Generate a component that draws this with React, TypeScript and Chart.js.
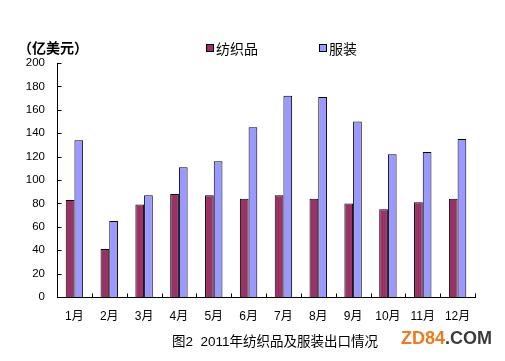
import React, { useEffect, useRef } from "react";
import { Chart, registerables } from "chart.js";

Chart.register(...registerables);

const categories = ["1月", "2月", "3月", "4月", "5月", "6月", "7月", "8月", "9月", "10月", "11月", "12月"];
const textileValues = [83, 41, 79, 88, 87, 84, 87, 84, 80, 75, 81, 84];
const apparelValues = [134, 65, 87, 111, 116, 145, 172, 171, 150, 122, 124, 135];
const seriesNames = ["纺织品", "服装"];
const seriesColors = ["#993366", "#9999FF"];
const yMax = 200;
const yStep = 20;
const unitLabel = "（亿美元）";
const caption = "图2  2011年纺织品及服装出口情况";

const FONT = "'Liberation Sans', 'Noto Sans CJK SC', Arial, sans-serif";

const innerTicks = {
  id: "innerTicks",
  afterDraw(chart: any) {
    const { ctx, scales } = chart;
    const xs = scales.x;
    const ys = scales.y;
    ctx.save();
    ctx.strokeStyle = "#000";
    ctx.lineWidth = 1;
    ctx.beginPath();
    const left = Math.round(xs.left) + 0.5;
    ys.ticks.forEach((t: any) => {
      const y = Math.round(ys.getPixelForValue(t.value)) + 0.5;
      ctx.moveTo(left, y);
      ctx.lineTo(left + 4, y);
    });
    const step = xs.getPixelForValue(1) - xs.getPixelForValue(0);
    const bottom = Math.round(ys.bottom) + 0.5;
    for (let i = 0; i <= categories.length; i++) {
      const x = Math.round(xs.getPixelForValue(0) - step / 2 + i * step) + 0.5;
      ctx.moveTo(x, bottom);
      ctx.lineTo(x, bottom - 4);
    }
    ctx.stroke();
    ctx.restore();
  },
};

export default function App() {
  const ref = useRef<HTMLCanvasElement | null>(null);

  useEffect(() => {
    if (!ref.current) return;
    const chart = new Chart(ref.current, {
      type: "bar",
      data: {
        labels: categories,
        datasets: [
          {
            label: seriesNames[0],
            data: textileValues,
            backgroundColor: seriesColors[0],
            borderColor: "#000",
            borderWidth: 1,
            categoryPercentage: 0.5,
            barPercentage: 1,
          },
          {
            label: seriesNames[1],
            data: apparelValues,
            backgroundColor: seriesColors[1],
            borderColor: "#000",
            borderWidth: 1,
            categoryPercentage: 0.5,
            barPercentage: 1,
          },
        ],
      },
      options: {
        responsive: false,
        animation: false,
        devicePixelRatio: 1,
        layout: { padding: { top: 63, right: 30, bottom: 24, left: 0 } },
        plugins: {
          legend: { display: false },
          tooltip: { enabled: false },
          title: { display: false },
        },
        scales: {
          x: {
            grid: { display: false, drawTicks: false },
            border: { display: true, color: "#000", width: 1 },
            ticks: { color: "#000", padding: 12, font: { family: FONT, size: 12 } },
            afterFit: (s: any) => {
              s.height = 40;
            },
          },
          y: {
            min: 0,
            max: yMax,
            grid: { display: false, drawTicks: false },
            border: { display: true, color: "#000", width: 1 },
            ticks: { stepSize: yStep, color: "#000", padding: 12, font: { family: FONT, size: 11.5 } },
            afterFit: (s: any) => {
              s.width = 57;
            },
          },
        },
      },
      plugins: [innerTicks],
    });
    return () => chart.destroy();
  }, []);

  const legendItem = (i: number, left: number) => (
    <div
      style={{
        position: "absolute",
        left,
        top: 38,
        display: "flex",
        alignItems: "center",
        fontFamily: FONT,
        fontSize: 14,
        color: "#000",
        whiteSpace: "nowrap",
      }}
    >
      <span
        style={{
          display: "inline-block",
          width: 6,
          height: 6,
          background: seriesColors[i],
          border: "1px solid #000",
          marginRight: 2,
        }}
      />
      <span>{seriesNames[i]}</span>
    </div>
  );

  return (
    <div
      style={{
        position: "absolute",
        left: 0,
        top: 0,
        width: 505,
        height: 361,
        background: "#fff",
        overflow: "hidden",
      }}
    >
      <canvas ref={ref} width={505} height={361} style={{ position: "absolute", left: 0, top: 0 }} />
      <div
        style={{
          position: "absolute",
          left: 18,
          top: 37,
          fontFamily: FONT,
          fontSize: 14,
          fontWeight: "bold",
          color: "#000",
          whiteSpace: "nowrap",
        }}
      >
        {unitLabel}
      </div>
      {legendItem(0, 206)}
      {legendItem(1, 319)}
      <div
        style={{
          position: "absolute",
          left: 172,
          top: 330,
          fontFamily: FONT,
          fontSize: 13.5,
          color: "#000",
          whiteSpace: "pre",
        }}
      >
        {caption}
      </div>
      <div
        style={{
          position: "absolute",
          left: 401,
          top: 328,
          fontFamily: FONT,
          fontSize: 18,
          fontWeight: "bold",
          whiteSpace: "nowrap",
        }}
      >
        <span style={{ color: "#F07A1E" }}>ZD84</span>
        <span style={{ color: "#3a3a3a" }}>.COM</span>
      </div>
    </div>
  );
}
